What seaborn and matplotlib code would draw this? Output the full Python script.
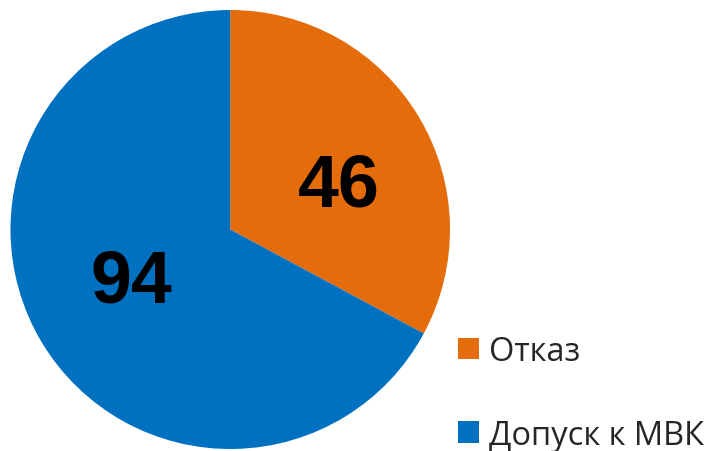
import matplotlib
matplotlib.use("Agg")
import matplotlib.pyplot as plt
import seaborn as sns

categories = ["Отказ", "Допуск к МВК"]
values = [46, 94]
colors = ["#E46C0A", "#0070C0"]

sns.set_theme(style="white")
plt.rcParams["font.family"] = ["Open Sans", "DejaVu Sans"]

fig = plt.figure(figsize=(7.12, 4.52), dpi=100)
ax = fig.add_axes([10.5 / 712, 2 / 452, 439.5 / 712, 439 / 452])
wedges, _ = ax.pie(values, colors=colors, startangle=90, counterclock=False,
                   radius=1.0, wedgeprops=dict(linewidth=0))
ax.set_xlim(-1, 1)
ax.set_ylim(-1, 1)
ax.set_aspect("auto")
ax.axis("off")

label_pos = [(0.495, 0.197), (-0.452, -0.238)]
for (x, y), v in zip(label_pos, values):
    ax.text(x, y, str(v), ha="center", va="center", fontsize=53,
            fontweight="bold", family=["Liberation Sans", "DejaVu Sans"], color="black")

fig.legend(wedges, categories, loc="upper left", bbox_to_anchor=(458 / 712, 1 - 336 / 452),
           frameon=False, fontsize=23.5, handlelength=0.65, handleheight=0.65,
           handletextpad=0.3, labelspacing=1.55, borderaxespad=0, borderpad=0)

fig.savefig("out.png", dpi=100)
